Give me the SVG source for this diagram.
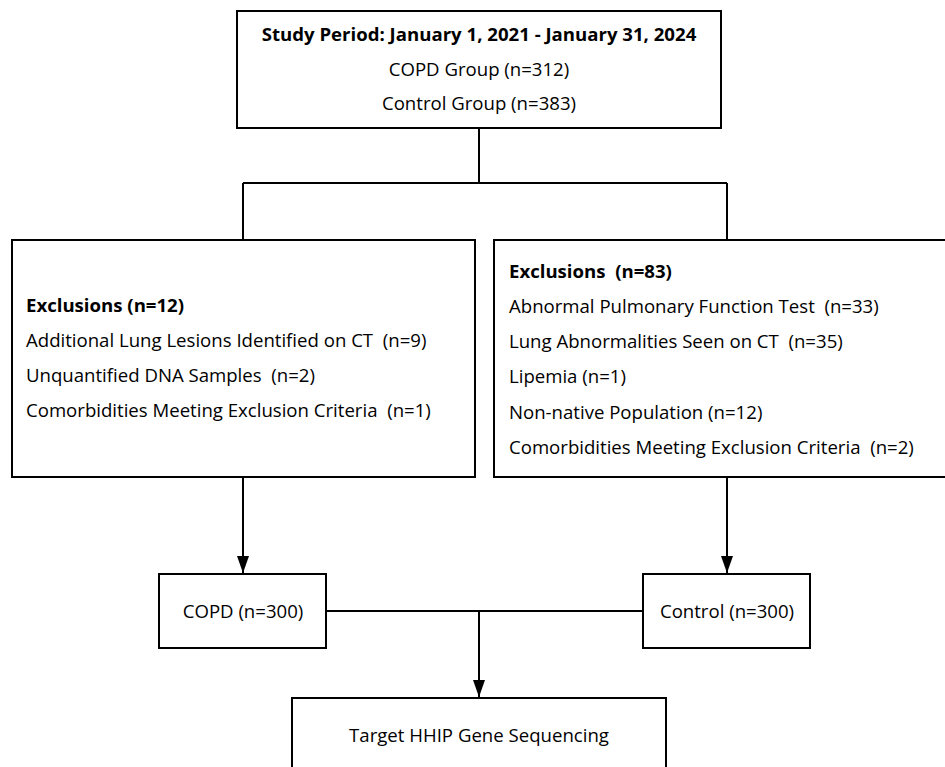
<svg xmlns="http://www.w3.org/2000/svg" width="945" height="767" viewBox="0 0 945 767">
<defs>
<marker id="ah2" viewBox="0 0 17 12" refX="17" refY="6" markerWidth="17" markerHeight="12" markerUnits="userSpaceOnUse" orient="auto">
<path d="M0,0 L17,6 L0,12 Z" fill="#000"/>
</marker>
</defs>
<style>
rect{fill:#fff;stroke:#000;stroke-width:2}
text{font-family:"Open Sans","Noto Sans","Liberation Sans",sans-serif;font-size:18.6px;fill:#000;white-space:pre}
.b{font-weight:bold}
.c{text-anchor:middle}
#connectors path{fill:none;stroke:#000;stroke-width:2}
</style>
<rect x="0" y="0" width="945" height="767" style="stroke:none;fill:#fff"/>
<g id="connectors">
<path d="M479,128 V183"/>
<path d="M243,183 H727"/>
<path d="M243,183 V240"/>
<path d="M727,183 V240"/>
<path d="M243,477 V573" marker-end="url(#ah2)"/>
<path d="M727,477 V573" marker-end="url(#ah2)"/>
<path d="M326,611 H643"/>
<path d="M479,611 V697" marker-end="url(#ah2)"/>
</g>
<g id="study">
<rect x="237" y="11" width="484" height="117"/>
<text class="c b" x="479" y="41">Study Period: January 1, 2021 - January 31, 2024</text>
<text class="c" x="479" y="76">COPD Group (n=312)</text>
<text class="c" x="479" y="110">Control Group (n=383)</text>
</g>
<g id="excl-left">
<rect x="12" y="240" width="463" height="237"/>
<text class="b" x="26" y="312">Exclusions (n=12)</text>
<text x="26" y="347" xml:space="preserve">Additional Lung Lesions Identified on CT  (n=9)</text>
<text x="26" y="382" xml:space="preserve">Unquantified DNA Samples  (n=2)</text>
<text x="26" y="417" xml:space="preserve">Comorbidities Meeting Exclusion Criteria  (n=1)</text>
</g>
<g id="excl-right">
<rect x="494" y="240" width="460" height="237"/>
<text class="b" x="509" y="278" xml:space="preserve">Exclusions  (n=83)</text>
<text x="509" y="313" xml:space="preserve">Abnormal Pulmonary Function Test  (n=33)</text>
<text x="509" y="348" xml:space="preserve">Lung Abnormalities Seen on CT  (n=35)</text>
<text x="509" y="383">Lipemia (n=1)</text>
<text x="509" y="419">Non-native Population (n=12)</text>
<text x="509" y="454" xml:space="preserve">Comorbidities Meeting Exclusion Criteria  (n=2)</text>
</g>
<g id="copd">
<rect x="159" y="574" width="167" height="74"/>
<text class="c" x="243" y="618">COPD (n=300)</text>
</g>
<g id="control">
<rect x="643" y="574" width="167" height="74"/>
<text class="c" x="727" y="618">Control (n=300)</text>
</g>
<g id="seq">
<rect x="292" y="698" width="374" height="80"/>
<text class="c" x="479" y="742">Target HHIP Gene Sequencing</text>
</g>
</svg>
